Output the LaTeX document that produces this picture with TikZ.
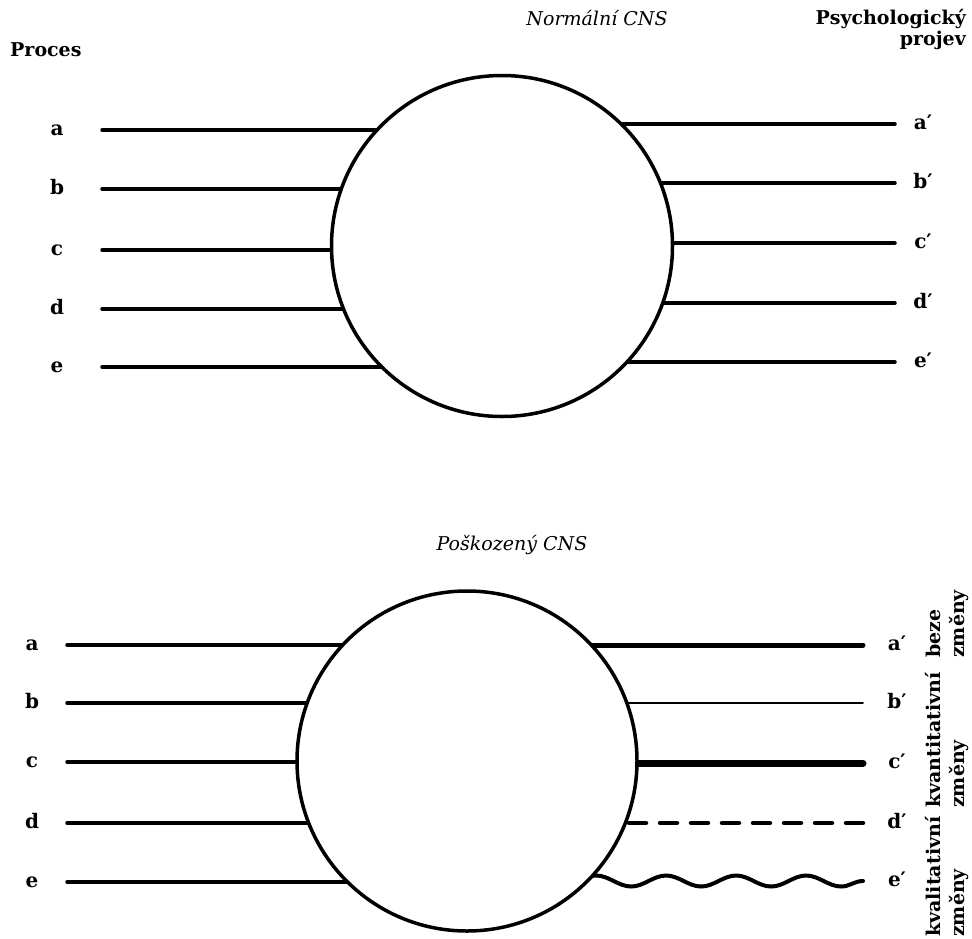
\documentclass[tikz,border=0pt]{standalone}
\usepackage{fontspec}
\setmainfont{DejaVu Serif}
\usepackage{tikz}
\usetikzlibrary{decorations.pathmorphing}
\tikzset{wire/.style={line width=3.5pt, line cap=round}}
\tikzset{lbl/.style={font=\fontsize{20}{22}\selectfont\bfseries, inner sep=0pt, text height=10pt, text depth=0pt}}
\tikzset{head/.style={font=\fontsize{19}{21}\selectfont\bfseries, inner sep=0pt}}
\tikzset{ital/.style={font=\fontsize{19}{22}\selectfont\itshape, inner sep=0pt}}
\tikzset{cns/.style={circle, draw, line width=3.5pt, fill=white, inner sep=0pt}}
\tikzset{side/.style={font=\fontsize{19}{24}\selectfont\bfseries, rotate=90, align=left, anchor=west, inner sep=0pt}}

\begin{document}
\begin{tikzpicture}[x=1pt,y=-1pt]
  \useasboundingbox (0,0) rectangle (972,938);

  \node[head, anchor=west] (proc) at (10,50) {Proces};
  \node[ital] (norm) at (597,18) {Normální CNS};
  \node[head, align=right, anchor=north east] (psy) at (966,9) {Psychologický\\projev};
  \node[ital] (posk) at (512,545) {Poškozený CNS};

  \coordinate (ctrA) at (502,246);

  \node[lbl] (a) at (57,130) {a};
  \node[lbl] (b) at (57,189) {b};
  \node[lbl] (c) at (57,250) {c};
  \node[lbl] (d) at (57,309) {d};
  \node[lbl] (e) at (57,367) {e};

  \node[lbl] (a2) at (923,124) {a′};
  \node[lbl] (b2) at (923,183) {b′};
  \node[lbl] (c2) at (923,243) {c′};
  \node[lbl] (d2) at (923,303) {d′};
  \node[lbl] (e2) at (923,362) {e′};

  \draw[wire] ([xshift=45pt]a.center) -- (a -| ctrA);
  \draw[wire] ([xshift=45pt]b.center) -- (b -| ctrA);
  \draw[wire] ([xshift=45pt]c.center) -- (c -| ctrA);
  \draw[wire] ([xshift=45pt]d.center) -- (d -| ctrA);
  \draw[wire] ([xshift=45pt]e.center) -- (e -| ctrA);

  \draw[wire] (a2 -| ctrA) -- ([xshift=-28pt]a2.center);
  \draw[wire] (b2 -| ctrA) -- ([xshift=-28pt]b2.center);
  \draw[wire] (c2 -| ctrA) -- ([xshift=-28pt]c2.center);
  \draw[wire] (d2 -| ctrA) -- ([xshift=-28pt]d2.center);
  \draw[wire] (e2 -| ctrA) -- ([xshift=-28pt]e2.center);

  \node[cns, minimum size=341pt] (cnsA) at (ctrA) {};

  \coordinate (ctrB) at (467,761);

  \node[lbl] (pa) at (32,645) {a};
  \node[lbl] (pb) at (32,703) {b};
  \node[lbl] (pc) at (32,762) {c};
  \node[lbl] (pd) at (32,823) {d};
  \node[lbl] (pe) at (32,882) {e};

  \node[lbl] (pa2) at (897,645) {a′};
  \node[lbl] (pb2) at (897,703) {b′};
  \node[lbl] (pc2) at (897,763) {c′};
  \node[lbl] (pd2) at (897,823) {d′};
  \node[lbl] (pe2) at (897,881) {e′};

  \draw[wire] ([xshift=35pt]pa.center) -- (pa -| ctrB);
  \draw[wire] ([xshift=35pt]pb.center) -- (pb -| ctrB);
  \draw[wire] ([xshift=35pt]pc.center) -- (pc -| ctrB);
  \draw[wire] ([xshift=35pt]pd.center) -- (pd -| ctrB);
  \draw[wire] ([xshift=35pt]pe.center) -- (pe -| ctrB);

  \draw[wire, line width=5pt] ([xshift=-34pt]pa2.center) -- (pa2 -| ctrB);
  \draw[wire, line width=1.8pt] ([xshift=-34pt]pb2.center) -- (pb2 -| ctrB);
  \draw[wire, line width=7pt] ([xshift=-34pt]pc2.center) -- (pc2 -| ctrB);
  \draw[wire, line width=4.5pt, dash pattern=on 17pt off 14pt] ([xshift=-34pt]pd2.center) -- (pd2 -| ctrB);
  \draw[wire, line width=4pt, decorate, decoration={snake, segment length=70pt, amplitude=5.5pt}] ([xshift=-34pt]pe2.center) -- (pe2 -| ctrB);

  \node[cns, minimum size=340pt] (cnsB) at (ctrB) {};

  \node[side] (beze) at (947,658) {beze\\změny};
  \node[side] (kvant) at (947,808) {kvantitativní\\změny};
  \node[side] (kval) at (947,937) {kvalitativní\\změny};

\end{tikzpicture}
\end{document}
